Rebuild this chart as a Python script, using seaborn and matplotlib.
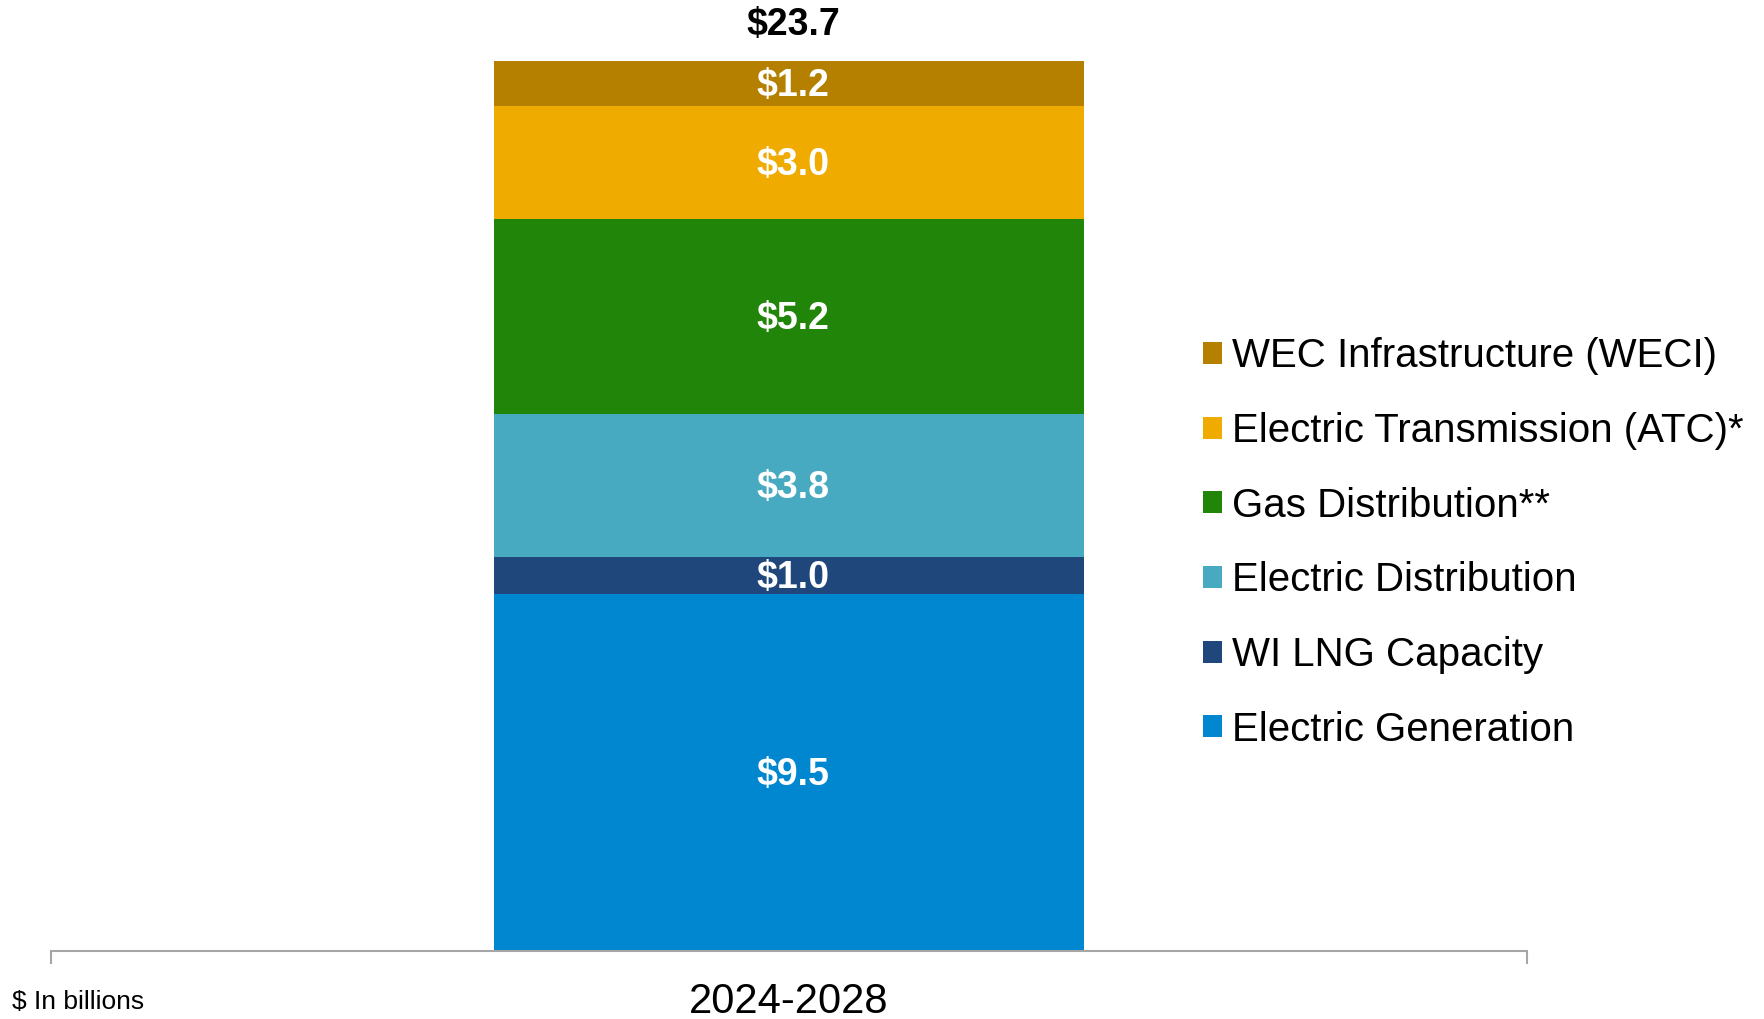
import numpy as np
import pandas as pd
import matplotlib
matplotlib.use('Agg')
import matplotlib.pyplot as plt
from matplotlib.patches import Patch
import seaborn as sns

period = '2024-2028'
segments = ['Electric Generation', 'WI LNG Capacity', 'Electric Distribution',
            'Gas Distribution**', 'Electric Transmission (ATC)*', 'WEC Infrastructure (WECI)']
values = [9.5, 1.0, 3.8, 5.2, 3.0, 1.2]
colors = ['#0087D0', '#20477B', '#48AAC0', '#218509', '#F0AB00', '#B58000']
total = 23.7

sns.set_style('white')
plt.rcParams['font.family'] = ['Liberation Sans', 'DejaVu Sans']
plt.rcParams['text.color'] = 'black'
plt.rcParams['xtick.color'] = 'black'

fig = plt.figure(figsize=(17.65, 10.19), dpi=100)
ax = fig.add_axes([51 / 1765, 68 / 1019, 1476 / 1765, 951 / 1019])

tops = np.cumsum(values)
bottoms = tops - np.array(values)
# stack by drawing the cumulative heights, tallest first
for i in reversed(range(len(values))):
    df = pd.DataFrame({'period': [period], 'value': [tops[i]]})
    sns.barplot(data=df, x='period', y='value', color=colors[i], width=0.4,
                saturation=1, ax=ax, linewidth=0)

for b, v in zip(bottoms, values):
    ax.annotate(f'${v:.1f}', (0, b + v / 2), xytext=(3, -2), textcoords='offset points',
                ha='center', va='center', color='white', fontsize=27, fontweight='bold')
ax.annotate(f'${total:.1f}', (0, tops[-1]), xytext=(3, 13), textcoords='offset points',
            ha='center', va='bottom', fontsize=27, fontweight='bold', color='black')

ax.set_xlim(-0.5, 0.5)
ax.set_ylim(0, total * 951 / 890)
ax.set_xlabel('')
ax.set_ylabel('')
ax.set_yticks([])
for s in ['top', 'right', 'left']:
    ax.spines[s].set_visible(False)
ax.spines['bottom'].set_color('#A6A6A6')
ax.spines['bottom'].set_linewidth(1.5)
ax.set_xticks([-0.5, 0.5], minor=True)
ax.tick_params(axis='x', which='minor', length=9, width=1.5, color='#A6A6A6', bottom=True)
ax.tick_params(axis='x', which='major', length=0, pad=22, labelsize=30, labelcolor='black')

handles = [Patch(facecolor=c, edgecolor='none') for c in colors[::-1]]
fig.legend(handles, segments[::-1], loc='center left', bbox_to_anchor=(1187 / 1765, 1 - 543 / 1019),
           frameon=False, fontsize=29, handlelength=0.47, handleheight=0.47,
           handletextpad=0.25, labelspacing=0.91, borderaxespad=0, labelcolor='black')

fig.text(12 / 1765, 1 - 1002 / 1019, '$ In billions', fontsize=19, ha='left', va='center')

fig.savefig('out.png', dpi=100)
